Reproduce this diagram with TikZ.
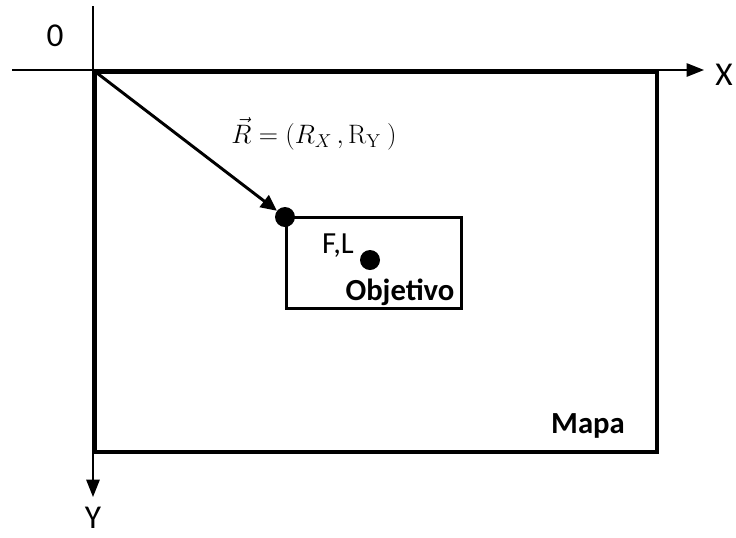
\RequirePackage{fix-cm}
\documentclass[tikz,border=0pt]{standalone}
\usepackage[no-math]{fontspec}
\setmainfont{Carlito}
\usetikzlibrary{arrows.meta}

\begin{document}
\begin{tikzpicture}[x=0.75pt,y=-0.75pt,
axis/.style={line width=1.2pt,-{Triangle[length=13pt,width=10pt]}},
mapbox/.style={draw,line width=3pt,anchor=north west,
minimum width=421.5pt,minimum height=285pt},
objbox/.style={draw,line width=2pt,anchor=north west,
minimum width=131.25pt,minimum height=68.25pt},
dot/.style={circle,fill=black,inner sep=0pt,minimum size=#1},
lbl/.style={font=\fontsize{25}{30}\selectfont},
txt/.style={font=\fontsize{23}{27}\selectfont},
btxt/.style={font=\fontsize{23}{27}\selectfont\bfseries},
vec/.style={line width=2.2pt,-{Triangle[length=12pt,width=11pt]}}
]
\useasboundingbox (0,0) rectangle (736,537);
% axes
\coordinate (O) at (93,70);
\coordinate (xs) at (12,70);
\coordinate (xe) at (704,70);
\coordinate (ys) at (93,6);
\coordinate (ye) at (93,497);
\draw[axis] (xs) -- (xe);
\draw[axis] (ys) -- (ye);
\node[lbl] (lo) at (55,36) {0};
\node[lbl] (lx) at (724,75) {X};
\node[lbl] (ly) at (93,518) {Y};
% map and target
\node[mapbox] (mapa) at (O) {};
\node[btxt] (lmapa) at (588,426) {Mapa};
\node[objbox] (obj) at (285,216) {};
\node[dot=15pt] (pR) at (285,217) {};
\node[dot=15pt] (pFL) at (370,260) {};
\node[txt] (lfl) at (338,246) {F,L};
\node[btxt] (lobj) at (400,292) {Objetivo};
% position vector
\draw[vec] (O) -- (pR);
\node[inner sep=0pt,font=\fontsize{20}{24}\selectfont] (eq) at (314,134)
{$\vec{R} = (R_X\,,\mathrm{R}_{\mathrm{Y}}\ )$};
\end{tikzpicture}
\end{document}
